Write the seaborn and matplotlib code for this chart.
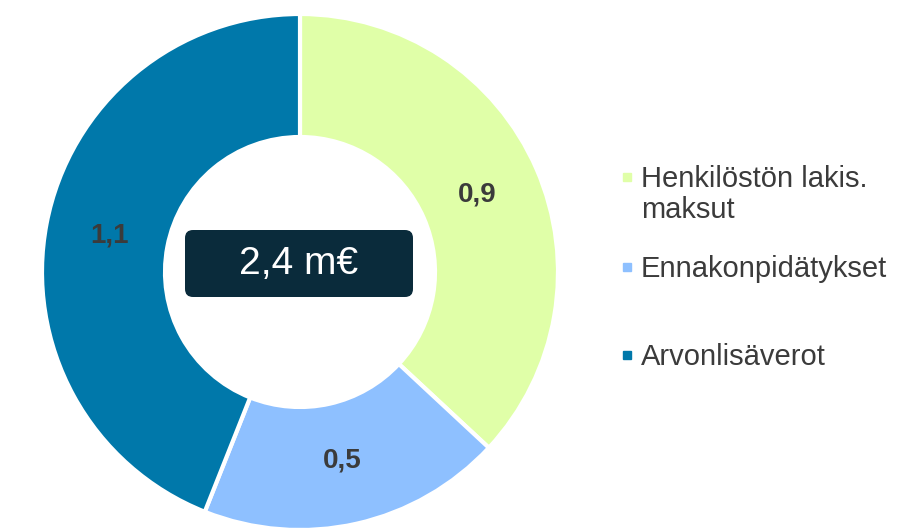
import matplotlib
matplotlib.use("Agg")
import matplotlib.pyplot as plt
from matplotlib.patches import FancyBboxPatch
import seaborn as sns

categories = ["Henkilöstön lakis.\nmaksut", "Ennakonpidätykset", "Arvonlisäverot"]
values = [0.89, 0.46, 1.06]
total_label = "2,4 m€"
colors = ["#E0FFA8", "#8EC0FF", "#0078AA"]

W, H = 923, 530
CENTER = (300, H - 272)
RADIUS = 258
RING = 123
TEXT_COLOR = "#3B3B3B"

sns.set_theme(style="white")
plt.rcParams["font.family"] = ["Liberation Sans", "DejaVu Sans"]

fig = plt.figure(figsize=(W / 100, H / 100), dpi=100)
ax = fig.add_axes([0, 0, 1, 1])

total = sum(values)
wedges, _, autotexts = ax.pie(
    values,
    colors=colors,
    center=CENTER,
    radius=RADIUS,
    startangle=90,
    counterclock=False,
    wedgeprops=dict(width=RING, edgecolor="white", linewidth=3),
    autopct=lambda p: f"{p * total / 100:.1f}".replace(".", ","),
    pctdistance=0.75,
    textprops=dict(fontsize=20, fontweight="bold", color=TEXT_COLOR),
    frame=True,
)
ax.set_xlim(0, W)
ax.set_ylim(0, H)
ax.set_aspect("equal")
ax.axis("off")

# center total box
box = FancyBboxPatch(
    (185, H - 297), 228, 67,
    boxstyle="round,pad=0,rounding_size=8",
    facecolor="#0A2B3B", edgecolor="none", zorder=5,
)
ax.add_patch(box)
ax.text(299, H - 264, total_label, color="white", fontsize=28,
        ha="center", va="center", zorder=6)

# legend
legend_y = [177, 267, 355]
for label, color, y in zip(categories, colors, legend_y):
    ax.plot(627, H - y, marker="s", markersize=6, color=color, linestyle="none")
    ax.text(641, H - y + 12, label, fontsize=21, color=TEXT_COLOR,
            ha="left", va="top", linespacing=1.15)

fig.savefig("out.png", dpi=100)
